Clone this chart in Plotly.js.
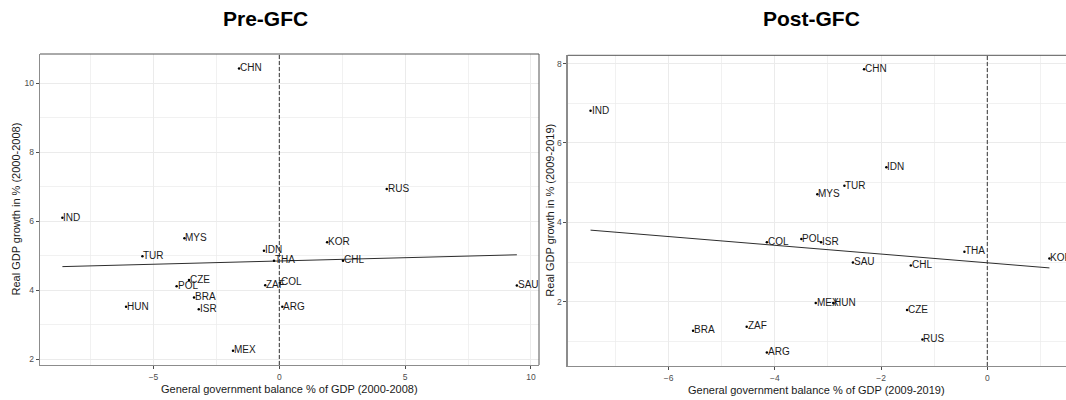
<!DOCTYPE html>
<html>
<head>
<meta charset="utf-8">
<script src="https://cdn.plot.ly/plotly-3.0.1.min.js"></script>
<style>html,body{margin:0;padding:0;background:#fff;}#chart{width:1066px;height:400px;}</style>
</head>
<body>
<div id="chart"></div>
<script>
// Pre-GFC (2000-2008)
const preCountries = ["CHN","IND","MYS","TUR","IDN","THA","CZE","POL","BRA","ISR","HUN","MEX","ZAF","COL","ARG","KOR","CHL","RUS","SAU"];
const preBalance   = [-1.60,-8.62,-3.77,-5.44,-0.61,-0.21,-3.59,-4.08,-3.39,-3.20,-6.09,-1.84,-0.56,0.02,0.12,1.90,2.53,4.27,9.44];
const preGrowth    = [10.43,6.10,5.51,4.99,5.15,4.86,4.30,4.12,3.79,3.45,3.52,2.25,4.15,4.22,3.52,5.39,4.86,6.94,4.14];

// Post-GFC (2009-2019)
const postCountries = ["IND","CHN","IDN","TUR","MYS","COL","POL","ISR","THA","KOR","SAU","CHL","MEX","HUN","CZE","RUS","BRA","ZAF","ARG"];
const postBalance   = [-7.47,-2.32,-1.90,-2.69,-3.20,-4.15,-3.50,-3.13,-0.43,1.17,-2.53,-1.44,-3.23,-2.90,-1.51,-1.22,-5.54,-4.53,-4.15];
const postGrowth    = [6.81,7.86,5.39,4.92,4.71,3.50,3.58,3.50,3.26,3.09,2.99,2.91,1.97,1.97,1.79,1.05,1.27,1.37,0.72];

const panelTitles = ["Pre-GFC","Post-GFC"];
const xTitles = ["General government balance % of GDP (2000-2008)","General government balance % of GDP (2009-2019)"];
const yTitles = ["Real GDP growth in % (2000-2008)","Real GDP growth in % (2009-2019)"];

function ols(x, y) {
  const n = x.length;
  const mx = x.reduce((a,b)=>a+b,0)/n, my = y.reduce((a,b)=>a+b,0)/n;
  let sxy = 0, sxx = 0;
  for (let i=0;i<n;i++){ sxy += (x[i]-mx)*(y[i]-my); sxx += (x[i]-mx)**2; }
  const b = sxy/sxx, a = my - b*mx;
  const x0 = Math.min(...x), x1 = Math.max(...x);
  return {x:[x0,x1], y:[a+b*x0, a+b*x1]};
}

const W = 1066, H = 400;
const FONT = "Liberation Sans, Arial, sans-serif";
const labelFont = {family: FONT, size: 10, color: "#1a1a1a"};

const preFit = ols(preBalance, preGrowth);
const postFit = ols(postBalance, postGrowth);

const traces = [
  {x: preFit.x, y: preFit.y, mode: "lines", line: {color: "#2e2e2e", width: 1}, xaxis: "x", yaxis: "y", hoverinfo: "skip"},
  {x: preBalance, y: preGrowth, mode: "markers", marker: {color: "#000", size: 2.5}, cliponaxis: false, xaxis: "x", yaxis: "y"},
  {x: postFit.x, y: postFit.y, mode: "lines", line: {color: "#2e2e2e", width: 1}, xaxis: "x2", yaxis: "y2", hoverinfo: "skip"},
  {x: postBalance, y: postGrowth, mode: "markers", marker: {color: "#000", size: 2.5}, xaxis: "x2", yaxis: "y2"}
];

const tickFont = {family: FONT, size: 8.5, color: "#4d4d4d"};
function axisBase(extra) {
  return Object.assign({
    showgrid: true, gridcolor: "#ebebeb", gridwidth: 1, zeroline: false,
    showline: true, linecolor: "#8c8c8c", linewidth: 1.3,
    ticks: "outside", ticklen: 3, tickcolor: "#4d4d4d", tickwidth: 1,
    tickfont: tickFont, automargin: false, fixedrange: true
  }, extra);
}

const L = {x0: 40/W, x1: 539/W, y0: 1-365/H, y1: 1-54/H};
const R = {x0: 567.7/W, x1: 1.0, y0: 1-366/H, y1: 1-55.3/H};

function labels(names, xs, ys, xref, yref) {
  return names.map((t, i) => ({
    text: t, x: xs[i], y: ys[i], xref: xref, yref: yref, xanchor: "left", yanchor: "middle",
    showarrow: false, borderpad: 0, xshift: 0, yshift: 0.8, font: labelFont
  }));
}

const annotations = [
  {text: "<b>" + panelTitles[0] + "</b>", xref: "paper", yref: "paper", x: 265.5/W, y: 1-19/H, xanchor: "center", yanchor: "middle",
   showarrow: false, font: {family: FONT, size: 21, color: "#000"}},
  {text: "<b>" + panelTitles[1] + "</b>", xref: "paper", yref: "paper", x: 811/W, y: 1-19/H, xanchor: "center", yanchor: "middle",
   showarrow: false, font: {family: FONT, size: 21, color: "#000"}},
  {text: xTitles[0], xref: "paper", yref: "paper", x: (L.x0+L.x1)/2, y: 1-389/H, xanchor: "center", yanchor: "middle",
   showarrow: false, font: {family: FONT, size: 11, color: "#1a1a1a"}},
  {text: xTitles[1], xref: "paper", yref: "paper", x: (R.x0+R.x1)/2, y: 1-390/H, xanchor: "center", yanchor: "middle",
   showarrow: false, font: {family: FONT, size: 11, color: "#1a1a1a"}},
  {text: yTitles[0], xref: "paper", yref: "paper", x: 16/W, y: (L.y0+L.y1)/2, xanchor: "center", yanchor: "middle", textangle: -90,
   showarrow: false, font: {family: FONT, size: 11, color: "#1a1a1a"}},
  {text: yTitles[1], xref: "paper", yref: "paper", x: 550/W, y: (R.y0+R.y1)/2, xanchor: "center", yanchor: "middle", textangle: -90,
   showarrow: false, font: {family: FONT, size: 11, color: "#1a1a1a"}}
].concat(labels(preCountries, preBalance, preGrowth, "x", "y"))
 .concat(labels(postCountries, postBalance, postGrowth, "x2", "y2"));

const layout = {
  width: W, height: H,
  margin: {l: 0, r: 0, t: 0, b: 0},
  paper_bgcolor: "#fff", plot_bgcolor: "#fff",
  showlegend: false,
  xaxis: axisBase({domain: [L.x0, L.x1], range: [-9.51, 10.32], dtick: 5, tick0: 0, anchor: "y",
    minor: {dtick: 2.5, tick0: 0, showgrid: true, gridcolor: "#ebebeb", gridwidth: 0.7, ticks: ""}}),
  yaxis: axisBase({domain: [L.y0, L.y1], range: [1.835, 10.85], dtick: 2, tick0: 0, anchor: "x",
    minor: {dtick: 1, tick0: 0, showgrid: true, gridcolor: "#ebebeb", gridwidth: 0.7, ticks: ""}}),
  xaxis2: axisBase({domain: [R.x0, R.x1], range: [-7.90, 1.482], dtick: 2, tick0: 0, anchor: "y2",
    minor: {dtick: 1, tick0: 0, showgrid: true, gridcolor: "#ebebeb", gridwidth: 0.7, ticks: ""}}),
  yaxis2: axisBase({domain: [R.y0, R.y1], range: [0.38, 8.21], dtick: 2, tick0: 0, anchor: "x2",
    minor: {dtick: 1, tick0: 0, showgrid: true, gridcolor: "#ebebeb", gridwidth: 0.7, ticks: ""}}),
  shapes: [
    {type: "line", xref: "x", yref: "y domain", x0: 0, x1: 0, y0: 0, y1: 1, line: {color: "#333", width: 1, dash: "4px,2px"}},
    {type: "line", xref: "x2", yref: "y2 domain", x0: 0, x1: 0, y0: 0, y1: 1, line: {color: "#333", width: 1, dash: "4px,2px"}},
    {type: "line", xref: "paper", yref: "paper", x0: L.x0, x1: L.x1, y0: L.y1, y1: L.y1, line: {color: "#555", width: 1}},
    {type: "line", xref: "paper", yref: "paper", x0: L.x1, x1: L.x1, y0: L.y0, y1: L.y1, line: {color: "#555", width: 1}},
    {type: "line", xref: "paper", yref: "paper", x0: R.x0, x1: R.x1, y0: R.y1, y1: R.y1, line: {color: "#555", width: 1}}
  ],
  annotations: annotations
};

Plotly.newPlot("chart", traces, layout, {staticPlot: true, displayModeBar: false});
</script>
</body>
</html>
